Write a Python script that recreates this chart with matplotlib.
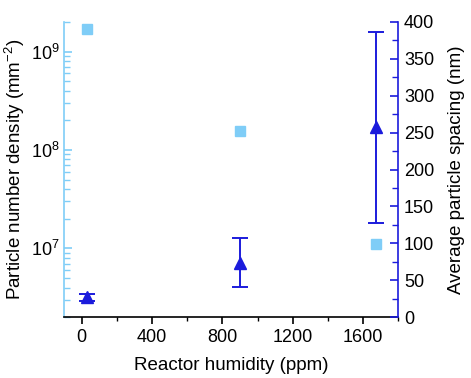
import matplotlib
matplotlib.use("Agg")
import matplotlib.pyplot as plt
from matplotlib.ticker import LogLocator, MultipleLocator, NullFormatter

plt.rcParams["font.family"] = ["Liberation Sans", "DejaVu Sans"]
plt.rcParams["mathtext.default"] = "regular"

# data
humidity = [30, 900, 1670]            # ppm
density = [1.71e9, 1.55e8, 1.12e7]    # mm^-2 (left, log)
spacing = [27, 74, 258]               # nm (right)
spacing_lo = [5, 33, 131]
spacing_hi = [5, 33, 129]

light = "#7fcdf7"
blue = "#1b1bdc"

fig = plt.figure(figsize=(4.71, 3.78), dpi=100)
ax = fig.add_axes([0.136, 0.161, 0.710, 0.781])
ax2 = ax.twinx()

ax.plot(humidity, density, ls="none", marker="s", ms=7, color=light, zorder=3)
ax.set_yscale("log")
ax.set_ylim(2e6, 2e9)
ax.set_xlim(-100, 1800)
ax.yaxis.set_major_locator(LogLocator(base=10, numticks=10))
ax.yaxis.set_minor_locator(LogLocator(base=10, subs=range(2, 10), numticks=20))
ax.yaxis.set_minor_formatter(NullFormatter())
ax.xaxis.set_major_locator(MultipleLocator(400))
ax.xaxis.set_minor_locator(MultipleLocator(200))

ax2.errorbar(humidity, spacing, yerr=[spacing_lo, spacing_hi], ls="none", marker="^",
             ms=8.5, color=blue, ecolor=blue, elinewidth=1.4, capsize=6, capthick=1.4)
ax2.set_ylim(0, 400)
ax2.yaxis.set_major_locator(MultipleLocator(50))
ax2.yaxis.set_minor_locator(MultipleLocator(25))

# spines / ticks
for a in (ax, ax2):
    a.spines["top"].set_visible(False)
ax.spines["left"].set_color(light)
ax.spines["left"].set_linewidth(1.2)
ax2.spines["left"].set_visible(False)
ax2.spines["right"].set_color(blue)
ax2.spines["right"].set_linewidth(1.2)
ax2.spines["bottom"].set_visible(False)
ax.spines["right"].set_visible(False)
ax.spines["bottom"].set_linewidth(1.2)

fs = 13
ax.tick_params(axis="y", which="major", direction="in", length=6, width=1.2, color=light,
               labelsize=fs, pad=3)
ax.tick_params(axis="y", which="minor", direction="in", length=4, width=1.0, color=light)
ax.tick_params(axis="x", which="major", direction="out", length=5, width=1.2, labelsize=fs)
ax.tick_params(axis="x", which="minor", direction="out", length=3, width=1.0)
ax2.tick_params(axis="y", which="major", direction="in", length=6, width=1.2, color=blue,
                labelsize=fs, pad=4)
ax2.tick_params(axis="y", which="minor", direction="in", length=4, width=1.0, color=blue)

ax.set_xlabel("Reactor humidity (ppm)", fontsize=13.5, labelpad=8)
ax.set_ylabel("Particle number density (mm$^{-2}$)", fontsize=13.5, labelpad=3)
ax2.set_ylabel("Average particle spacing (nm)", fontsize=13.5, labelpad=10)

fig.savefig("out.png", dpi=100)
